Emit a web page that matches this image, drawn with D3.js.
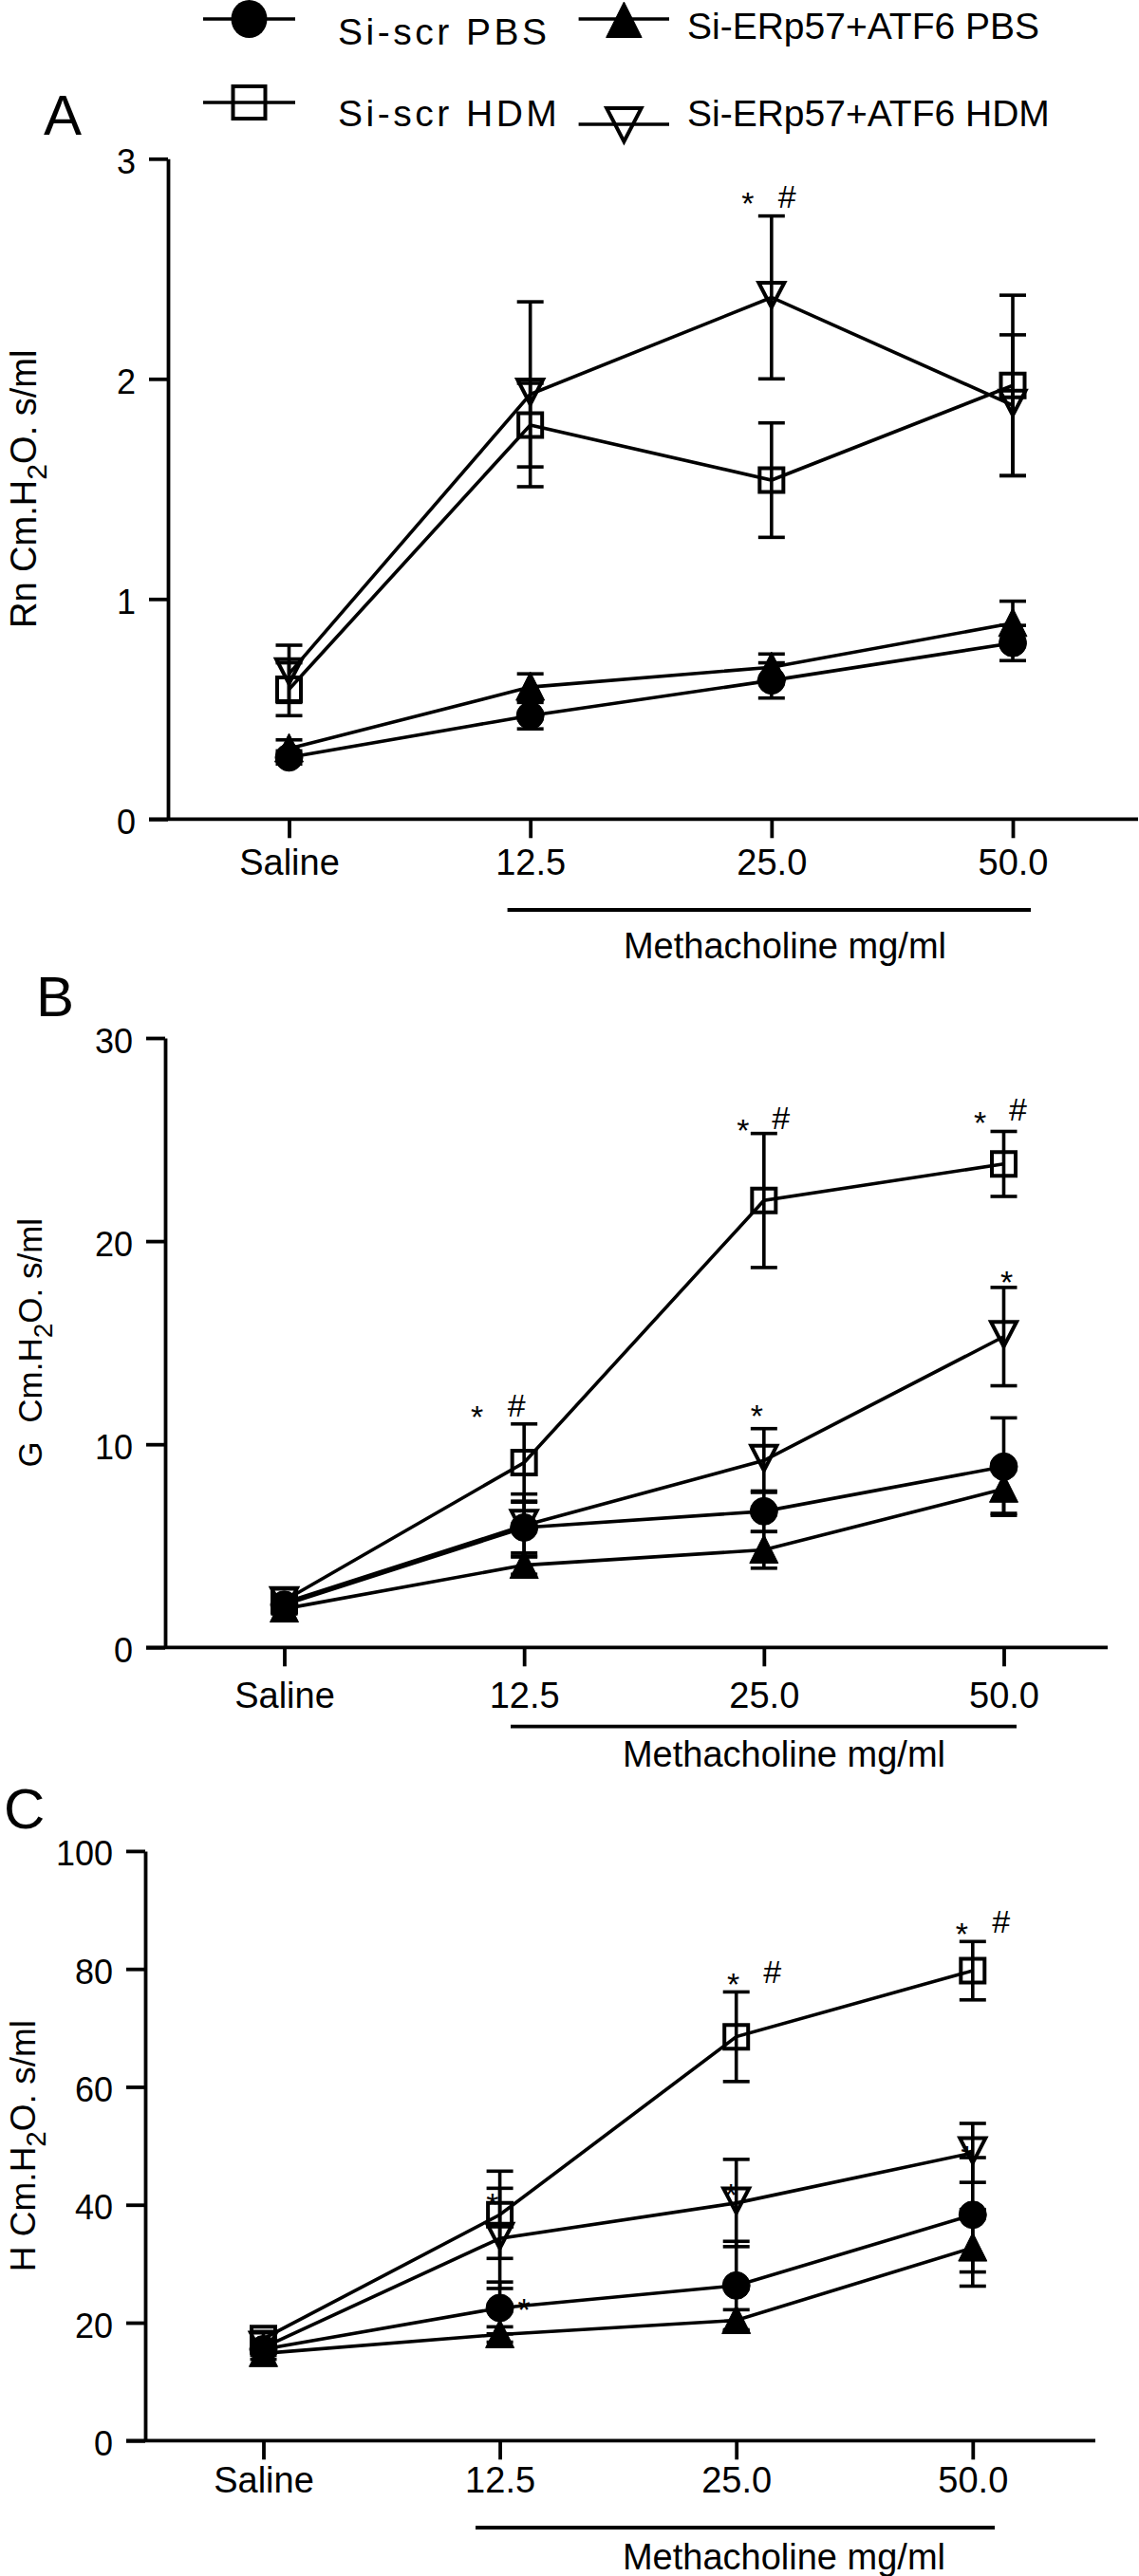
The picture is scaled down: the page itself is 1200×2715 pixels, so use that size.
<!DOCTYPE html>
<html><head><meta charset="utf-8">
<script src="https://cdn.jsdelivr.net/npm/d3@7"></script>
<style>
body{margin:0;background:#fff}
svg{display:block;background:#fff}
text{font-family:"Liberation Sans",Arial,Helvetica,sans-serif;fill:#000}
</style>
</head><body>
<svg id="chart" width="1200" height="2715"></svg>
<script>
// ---------------- DATA ----------------
const doses = ["Saline", "12.5", "25.0", "50.0"];
const seriesNames = ["Si-scr PBS", "Si-scr HDM", "Si-ERp57+ATF6 PBS", "Si-ERp57+ATF6 HDM"];
const seriesMarkers = ["circle", "square", "triangleUp", "triangleDown"];
const xAxisTitle = "Methacholine mg/ml";

// Panel A: Rn (cmH2O.s/ml)
const rnScrPBS = [0.28, 0.47, 0.63, 0.80];
const rnScrPBSErr = [0.03, 0.06, 0.08, 0.08];
const rnScrHDM = [0.59, 1.79, 1.54, 1.97];
const rnScrHDMErr = [0.12, 0.19, 0.26, 0.41];
const rnErpPBS = [0.32, 0.60, 0.69, 0.89];
const rnErpPBSErr = [0.04, 0.06, 0.06, 0.10];
const rnErpHDM = [0.66, 1.93, 2.37, 1.88];
const rnErpHDMErr = [0.13, 0.42, 0.37, 0.32];
const rnTicks = [0, 1, 2, 3];
const rnAnnotations = [["25.0", "*", 2.83], ["25.0", "#", 2.83]];

// Panel B: G (cmH2O.s/ml)
const gScrPBS = [2.1, 5.9, 6.7, 8.9];
const gScrPBSErr = [0.3, 1.25, 1.0, 2.4];
const gScrHDM = [2.3, 9.1, 22.0, 23.8];
const gScrHDMErr = [0.3, 1.9, 3.3, 1.6];
const gErpPBS = [1.9, 4.05, 4.8, 7.8];
const gErpPBSErr = [0.25, 0.45, 0.9, 1.2];
const gErpHDM = [2.2, 6.0, 9.2, 15.3];
const gErpHDMErr = [0.3, 1.55, 1.57, 2.42];
const gTicks = [0, 10, 20, 30];
const gAnnotations = [["12.5", "*", 11.74], ["12.5", "#", 11.95], ["25.0", "*", 25.85], ["25.0", "#", 26.06],
                      ["25.0", "*", 11.78], ["50.0", "*", 26.2], ["50.0", "#", 26.48], ["50.0", "*", 18.35]];

// Panel C: H (cmH2O.s/ml)
const hScrPBS = [15.5, 22.5, 26.3, 38.3];
const hScrPBSErr = [1.0, 4.4, 7.5, 9.7];
const hScrHDM = [17.3, 38.3, 68.5, 79.7];
const hScrHDMErr = [1.2, 7.4, 7.6, 4.95];
const hErpPBS = [14.8, 18.0, 20.4, 32.7];
const hErpPBSErr = [1.0, 1.3, 1.8, 6.5];
const hErpHDM = [15.8, 34.3, 40.3, 48.8];
const hErpHDMErr = [1.0, 8.5, 7.4, 5.0];
const hTicks = [0, 20, 40, 60, 80, 100];
const hAnnotations = [["25.0", "*", 78.7], ["25.0", "#", 79.5], ["50.0", "*", 87.3], ["50.0", "#", 88.1],
                      ["12.5", "*", 41.4], ["12.5", "*", 23.5], ["25.0", "*", 43.0], ["50.0", "*", 49.4]];

// ---------------- LAYOUT ----------------
const FONT = '"Liberation Sans",Arial,Helvetica,sans-serif';
const svg = d3.select("#chart");

const panels = [
  { letter: "A", letterX: 46, letterY: 141.6, titleHead: "Rn Cm.H", titleSize: 38, titleX: 38,
    values: [rnScrPBS, rnScrHDM, rnErpPBS, rnErpHDM], errs: [rnScrPBSErr, rnScrHDMErr, rnErpPBSErr, rnErpHDMErr],
    ticks: rnTicks, yMax: 3, axisX: 177, y0: 863.3, yTop: 167.3, xFirst: 304.5, xLast: 1067, xEnd: 1199,
    xLabDy: 59, methY: 959, methX1: 534.6, methX2: 1086, methTextY: 1009.5, methTextX: 827,
    annotations: rnAnnotations, annotDx: [-25, 16.5] },
  { letter: "B", letterX: 38, letterY: 1070.7, titleHead: "G  Cm.H", titleSize: 35, titleX: 44,
    values: [gScrPBS, gScrHDM, gErpPBS, gErpHDM], errs: [gScrPBSErr, gScrHDMErr, gErpPBSErr, gErpHDMErr],
    ticks: gTicks, yMax: 30, axisX: 174, y0: 1736.3, yTop: 1094, xFirst: 299.5, xLast: 1057.5, xEnd: 1167,
    xLabDy: 64, methY: 1819.7, methX1: 538, methX2: 1071, methTextY: 1862, methTextX: 826,
    annotations: gAnnotations, annotDx: [-49.5, -8, -22, 18, -7.5, -25, 15, 3] },
  { letter: "C", letterX: 4, letterY: 1927, titleHead: "H Cm.H", titleSize: 37, titleX: 37,
    values: [hScrPBS, hScrHDM, hErpPBS, hErpHDM], errs: [hScrPBSErr, hScrHDMErr, hErpPBSErr, hErpHDMErr],
    ticks: hTicks, yMax: 100, axisX: 153, y0: 2572.3, yTop: 1950.9, xFirst: 277.5, xLast: 1024.8, xEnd: 1154,
    xLabDy: 55, methY: 2664, methX1: 501, methX2: 1048, methTextY: 2708, methTextX: 826,
    annotations: hAnnotations, annotDx: [-3, 38, -11.5, 30, -7.7, 25.6, -5.7, -6] }
];

const AXIS_W = 3.8, LINE_W = 3.6, ERR_W = 3.6, CAP = 28;

function markerPath(type, s) {
  if (type === "circle") { const r = 14.5 * s; return `M${r},0A${r},${r} 0 1,1 ${-r},0A${r},${r} 0 1,1 ${r},0Z`; }
  if (type === "square") { const h = 12.5 * s; return `M${-h},${-h}H${h}V${h}H${-h}Z`; }
  if (type === "triangleUp") return `M0,${-16 * s}L${15 * s},${14 * s}L${-15 * s},${14 * s}Z`;
  return `M${-13.5 * s},${-15.5 * s}L${13.5 * s},${-15.5 * s}L0,${10.5 * s}Z`;
}
function styleMarker(sel, type) {
  const filled = (type === "circle" || type === "triangleUp");
  sel.attr("fill", filled ? "#000" : "none")
     .attr("stroke", "#000")
     .attr("stroke-width", filled ? 1 : 4)
     .attr("stroke-linejoin", "miter");
}

panels.forEach(p => {
  const g = svg.append("g");
  const x = d3.scalePoint().domain(doses).range([p.xFirst, p.xLast]);
  const y = d3.scaleLinear().domain([0, p.yMax]).range([p.y0, p.yTop]);

  // panel letter
  g.append("text").attr("x", p.letterX).attr("y", p.letterY)
    .attr("font-size", 60).text(p.letter);

  // y axis
  const yAxis = d3.axisLeft(y).tickValues(p.ticks).tickSize(20).tickSizeOuter(0).tickFormat(d3.format("d"));
  const ya = g.append("g").attr("transform", `translate(${p.axisX},0)`).call(yAxis);
  ya.select(".domain").attr("stroke", "#000").attr("stroke-width", AXIS_W);
  ya.selectAll(".tick line").attr("stroke", "#000").attr("stroke-width", AXIS_W);
  ya.selectAll(".tick text").attr("x", -34).attr("dy", null).attr("y", 15)
    .attr("font-size", 36).attr("font-family", FONT).attr("fill", "#000");

  // x axis
  const xAxis = d3.axisBottom(x).tickSize(20).tickSizeOuter(0);
  const xa = g.append("g").attr("transform", `translate(0,${p.y0})`).call(xAxis);
  xa.select(".domain").remove();
  xa.append("line").attr("x1", p.axisX - 20).attr("x2", p.xEnd).attr("y1", 0).attr("y2", 0)
    .attr("stroke", "#000").attr("stroke-width", AXIS_W);
  xa.selectAll(".tick line").attr("stroke", "#000").attr("stroke-width", AXIS_W);
  xa.selectAll(".tick text").attr("dy", null).attr("y", p.xLabDy)
    .attr("font-size", 38).attr("font-family", FONT).attr("fill", "#000");

  // methacholine bar + title
  g.append("line").attr("x1", p.methX1).attr("x2", p.methX2).attr("y1", p.methY).attr("y2", p.methY)
    .attr("stroke", "#000").attr("stroke-width", AXIS_W);
  g.append("text").attr("x", p.methTextX).attr("y", p.methTextY).attr("text-anchor", "middle")
    .attr("font-size", 38).text(xAxisTitle);

  // y title
  const yMid = (p.y0 + p.yTop) / 2;
  const t = g.append("text").attr("transform", `translate(${p.titleX},${yMid}) rotate(-90)`)
    .attr("text-anchor", "middle").attr("font-size", p.titleSize).style("white-space", "pre");
  t.append("tspan").text(p.titleHead);
  t.append("tspan").attr("dy", 11).attr("font-size", p.titleSize * 0.8).text("2");
  t.append("tspan").attr("dy", -11).text("O. s/ml");

  // series
  p.values.forEach((vals, si) => {
    const errs = p.errs[si];
    const pts = doses.map((d, i) => ({ d, v: vals[i], e: errs[i] }));
    const sg = g.append("g");
    // error bars
    pts.forEach(pt => {
      const cx = x(pt.d), yHi = y(pt.v + pt.e), yLo = y(pt.v - pt.e);
      sg.append("line").attr("x1", cx).attr("x2", cx).attr("y1", yHi).attr("y2", yLo)
        .attr("stroke", "#000").attr("stroke-width", ERR_W);
      [yHi, yLo].forEach(yy => sg.append("line").attr("x1", cx - CAP / 2).attr("x2", cx + CAP / 2)
        .attr("y1", yy).attr("y2", yy).attr("stroke", "#000").attr("stroke-width", ERR_W));
    });
    // line
    sg.append("path").datum(pts)
      .attr("d", d3.line().x(pt => x(pt.d)).y(pt => y(pt.v)))
      .attr("fill", "none").attr("stroke", "#000").attr("stroke-width", LINE_W);
    // markers
    sg.selectAll("path.mk").data(pts).enter().append("path").attr("class", "mk")
      .attr("transform", pt => `translate(${x(pt.d)},${y(pt.v)})`)
      .attr("d", markerPath(seriesMarkers[si], 1))
      .call(styleMarker, seriesMarkers[si]);
  });

  // annotations (* and #)
  const AF = 34;
  p.annotations.forEach((a, i) => {
    const [dose, sym, val] = a;
    const base = y(val) + (sym === "*" ? 0.58 * AF : 0.355 * AF);
    g.append("text").attr("x", x(dose) + p.annotDx[i]).attr("y", base)
      .attr("text-anchor", "middle").attr("font-size", AF).text(sym);
  });
});

// ---------------- LEGEND ----------------
const legendLayout = [
  { lx1: 214, lx2: 311, ly: 20, mx: 262.5, my: 20, tx: 356, ty: 46.7, spacing: 3.5 },
  { lx1: 214, lx2: 311, ly: 108, mx: 262.5, my: 108, tx: 356, ty: 133, spacing: 3.5 },
  { lx1: 609.6, lx2: 705, ly: 20, mx: 657.4, my: 22, tx: 724, ty: 41.3, spacing: 0 },
  { lx1: 609.6, lx2: 705, ly: 131, mx: 657.4, my: 135, tx: 724, ty: 133, spacing: 0 }
];
const lg = svg.append("g");
seriesNames.forEach((name, i) => {
  const L = legendLayout[i], type = seriesMarkers[i];
  lg.append("line").attr("x1", L.lx1).attr("x2", L.lx2).attr("y1", L.ly).attr("y2", L.ly)
    .attr("stroke", "#000").attr("stroke-width", 3.5);
  if (type === "circle") {
    lg.append("ellipse").attr("cx", L.mx).attr("cy", L.my).attr("rx", 19).attr("ry", 20).attr("fill", "#000");
  } else {
    lg.append("path").attr("transform", `translate(${L.mx},${L.my})`)
      .attr("d", markerPath(type, type === "square" ? 1.36 : (type === "triangleUp" ? 1.25 : 1.35)))
      .call(styleMarker, type);
  }
  lg.append("text").attr("x", L.tx).attr("y", L.ty).attr("font-size", 39)
    .attr("letter-spacing", L.spacing).text(name);
});
</script>
</body></html>
